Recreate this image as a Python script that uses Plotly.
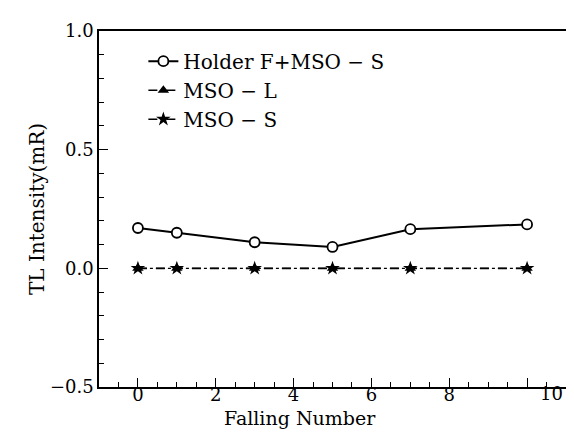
import plotly.graph_objects as go

falling = [0, 1, 3, 5, 7, 10]
holder_f_mso_s = [0.17, 0.15, 0.11, 0.09, 0.165, 0.185]
mso_l = [0.0, 0.0, 0.0, 0.0, 0.0, 0.0]
mso_s = [0.0, 0.0, 0.0, 0.0, 0.0, 0.0]

FONT = "DejaVu Serif"

fig = go.Figure()
fig.add_trace(go.Scatter(
    x=falling, y=holder_f_mso_s, mode="lines+markers", name="Holder F+MSO \u2212 S",
    legendgroup="a",
    line=dict(color="black", width=2),
    marker=dict(symbol="circle", size=10, color="white", line=dict(color="black", width=1.8)),
))
fig.add_trace(go.Scatter(
    x=falling, y=mso_l, mode="lines+markers", name="MSO \u2212 L",
    legendgroup="b",
    line=dict(color="black", width=1.6, dash="dash"),
    marker=dict(symbol="triangle-up", size=10, color="black"),
))
fig.add_trace(go.Scatter(
    x=falling, y=mso_s, mode="lines+markers", name="MSO \u2212 S",
    legendgroup="c",
    line=dict(color="black", width=1.4, dash="dashdot"),
    marker=dict(symbol="star", size=11, color="black"),
))

fig.update_layout(
    width=574, height=438,
    margin=dict(l=91, r=16, t=17, b=59),
    paper_bgcolor="white", plot_bgcolor="rgba(0,0,0,0)",
    font=dict(family=FONT, size=18, color="black"),
    showlegend=True,
    legend=dict(x=0.095, y=0.97, xanchor="left", yanchor="top",
                bgcolor="rgba(0,0,0,0)", font=dict(family=FONT, size=20, color="black"),
                itemwidth=30, traceorder="grouped", tracegroupgap=0),
    annotations=[
        dict(x=10.62, y=0, xref="x", yref="paper", yanchor="top",
             yshift=6, text="10", showarrow=False,
             font=dict(family=FONT, size=18, color="black")),
        dict(x=0.43, y=0, xref="paper", yref="paper", yanchor="top",
             yshift=-18, text="Falling Number", showarrow=False,
             font=dict(family=FONT, size=19, color="black")),
    ],
)
fig.update_xaxes(
    range=[-1, 11], showgrid=False, zeroline=False,
    showline=True, linecolor="black", linewidth=1.5, mirror=True,
    tickmode="linear", tick0=0, dtick=2, labelalias={"10": " "},
    ticks="inside", ticklen=9, tickwidth=1.3, tickcolor="black",
    tickfont=dict(family=FONT, size=18, color="black"),
    minor=dict(dtick=0.5, ticks="inside", ticklen=5, tickwidth=1.2, tickcolor="black"),
    ticklabelstandoff=-9,
)
fig.update_yaxes(
    range=[-0.5, 1.0], showgrid=False, zeroline=False,
    showline=True, linecolor="black", linewidth=1.5, mirror=True,
    tickmode="linear", tick0=0, dtick=0.5, tickformat=".1f",
    ticks="inside", ticklen=9, tickwidth=1.3, tickcolor="black",
    tickfont=dict(family=FONT, size=18, color="black"),
    minor=dict(dtick=0.1, ticks="inside", ticklen=5, tickwidth=1.2, tickcolor="black"),
    title=dict(text="TL Intensity(mR)", font=dict(family=FONT, size=20, color="black"), standoff=0),
)

fig.write_html("out.html")
